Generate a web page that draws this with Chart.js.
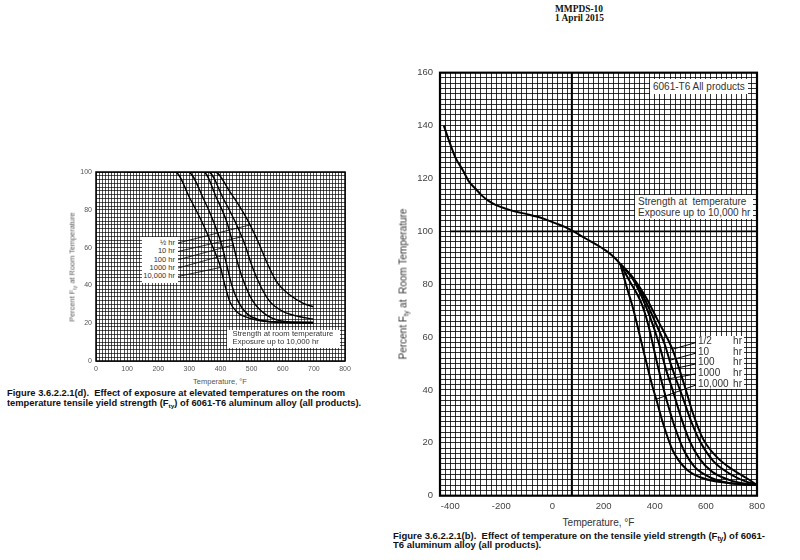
<!DOCTYPE html>
<html><head><meta charset="utf-8">
<script src="https://cdn.jsdelivr.net/npm/chart.js@4.4.1/dist/chart.umd.min.js"></script>
<style>
html,body{margin:0;padding:0;background:#fff;}
body{width:800px;height:560px;position:relative;overflow:hidden;font-family:"Liberation Sans",Arial,sans-serif;}
.abs{position:absolute;}
#hdr{left:555px;top:5px;font-family:"Liberation Serif","Times New Roman",serif;font-weight:bold;font-size:9.4px;line-height:8.7px;color:#111;}
.box{background:#fff;white-space:nowrap;}
.ytitle{white-space:nowrap;transform:translate(-50%,-50%) rotate(-90deg);}
.xtitle{white-space:nowrap;transform:translate(-50%,-50%);}
sub{font-size:70%;vertical-align:-0.35em;line-height:0;}
.cap{font-family:"Liberation Sans",Arial,sans-serif;font-weight:bold;font-size:8.5px;line-height:9.3px;white-space:nowrap;transform-origin:0 0;color:#111;}
.row{display:flex;justify-content:space-between;}
</style>
</head><body>
<div id="hdr" class="abs">MMPDS-10<br>1 April 2015</div>

<canvas id="c1" class="abs" width="320" height="215" style="left:40px;top:160px"></canvas>
<canvas id="c2" class="abs" width="400" height="456" style="left:380px;top:60px"></canvas>

<!-- left chart texts -->
<div class="abs ytitle" style="left:71.7px;top:266.5px;font-size:7.4px;color:#555;">Percent F<sub>ty</sub> at Room Temperature</div>
<div class="abs xtitle" style="left:220px;top:381px;font-size:7.5px;color:#555;">Temperature, °F</div>
<div class="abs box" style="left:141.7px;top:237px;width:33.3px;padding:2.1px 3px 2px 0;text-align:right;font-size:7.5px;line-height:8.35px;color:#333;">
½ hr<br>10 hr<br>100 hr<br>1000 hr<br>10,000 hr</div>
<div class="abs box" style="left:227px;top:330px;width:104px;padding:0 3px 1px 5.5px;font-size:7.7px;line-height:8.4px;color:#333;">Strength at room temperature<br>Exposure up to 10,000 hr</div>
<div class="abs cap" id="cap1" style="left:6.7px;top:389.3px;"><span id="cap1a">Figure 3.6.2.2.1(d).&nbsp; Effect of exposure at elevated temperatures on the room</span><br>temperature tensile yield strength (F<sub>ty</sub>) of 6061-T6 aluminum alloy (all products).</div>

<!-- right chart texts -->
<div class="abs ytitle" style="left:403px;top:283.7px;font-size:10px;color:#333;">Percent F<sub>ty</sub> at&nbsp; Room Temperature</div>
<div class="abs xtitle" style="left:598.5px;top:521.7px;font-size:10px;color:#333;">Temperature, °F</div>
<div class="abs box" style="left:650px;top:78.5px;padding:1px 3px;font-size:10px;line-height:13px;color:#333;">6061-T6 All products</div>
<div class="abs box" style="left:635px;top:195px;padding:1px 3px;font-size:10px;line-height:11px;color:#333;">Strength at&nbsp; temperature<br>Exposure up to 10,000 hr</div>
<div class="abs box" style="left:696px;top:336px;width:44px;padding:0 2px;font-size:10px;line-height:10.65px;color:#333;">
<div class="row"><span>1/2</span><span>hr</span></div>
<div class="row"><span>10</span><span>hr</span></div>
<div class="row"><span>100</span><span>hr</span></div>
<div class="row"><span>1000</span><span>hr</span></div>
<div class="row"><span>10,000</span><span>hr</span></div>
</div>
<div class="abs cap" id="cap2" style="left:393px;top:532px;font-size:9px;"><span id="cap2a">Figure 3.6.2.2.1(b).&nbsp; Effect of temperature on the tensile yield strength (F<sub>ty</sub>) of 6061-</span><br>T6 aluminum alloy (all products).</div>

<script>
// ---------- Left chart data: room-temperature F_ty after exposure ----------
const leftXTicks = [0,100,200,300,400,500,600,700,800];
const leftYTicks = [0,20,40,60,80,100];
const leftHalfX  = [100,382,430,484,521,548,580,623,666,698];
const leftHalfY  = [100,100,89.6,75.5,63.1,52.5,42,34.9,30.5,28.7];
const left10X    = [100,361,409,452,479,500,527,559,602,655,698];
const left10Y    = [100,100,86,72,61.4,50.8,40.2,31.4,26.1,23.4,22.2];
const left100X   = [100,345,388,420,441,457,479,505,548,613,698];
const left100Y   = [100,100,86,73.7,61.4,50.8,40.2,31.4,24.3,20.8,20.5];
const left1000X  = [100,296,345,382,404,420,436,457,484,527,591,698];
const left1000Y  = [100,100,86,72,61.4,50.8,40.2,31.4,25.2,21.7,20.5,20];
const left10000X = [100,254,302,345,377,398,414,430,452,495,559,698];
const left10000Y = [100,100,86,72,59.6,50.8,40.2,31.4,26.1,22.6,20.8,20.3];
const leftLeadX1 = [260,260,260,260,260];
const leftLeadY1 = [62.3,57.8,53.4,49.0,44.6];
const leftLeadX2 = [495,468,441,412,400];
const leftLeadY2 = [72,65.7,61.4,56,49.5];

// ---------- Right chart data: F_ty at temperature ----------
const rightXTicks = [-400,-200,0,200,400,600,800];
const rightYTicks = [0,20,40,60,80,100,120,140,160];
const rightMainX = [-425,-400,-380,-350,-328,-300,-276,-250,-223,-180,-145,-100,-66,-30,13,50,82,110,144,180,209,240,265];
const rightMainY = [140,133,128,123,119,116,113.5,111.5,110,108.5,107.5,106.5,105.7,104.6,103,101.6,100,98.4,96.5,94.5,92.7,90.3,87.7];
const rightHalfX  = [265,314,366,412,469,517,550,589,642,707,760,800];
const rightHalfY  = [87.7,82.6,75,66.3,55.4,41.5,31,21.5,14.7,9.7,6.6,4];
const right10X    = [265,314,360,405,440,458,480,510,545,580,630,690,750,800];
const right10Y    = [87.7,82.4,74.5,65,57,51.2,45,37,27.5,20,13,8.5,5.6,4];
const right100X   = [265,314,347,380,415,445,470,500,535,575,625,690,750,800];
const right100Y   = [87.7,82,75.7,68,58,47.4,40,30.5,21,14,9,6,4.6,4];
const right1000X  = [265,300,347,375,400,425.5,450,480,515,555,605,670,740,800];
const right1000Y  = [87.7,81.5,73,64.5,54,43.7,35,25.5,17,11,7.5,5.2,4.3,4];
const right10000X = [265,290,314,353,392,406,432,471,524,589,681,792];
const right10000Y = [87.7,79,71.3,56,41,36.5,27.5,17,10,6.6,4.9,4];
const rightLeadX1 = [568,568,568,568,568];
const rightLeadY1 = [58.1,54.1,50,46.2,42.1];
const rightLeadX2 = [469,458,445,425.5,406];
const rightLeadY2 = [55.4,51.2,47.4,43.7,36.5];
const roomTempF = [75, 75];
const roomTempY = [0, 160];
const refLineX = [-400, 800];
const refLineY = [100, 100];

// ---------- helpers ----------
function pts(xs, ys){ return xs.map((x,i)=>({x:x, y:ys[i]})); }
function curve(xs, ys, w){
  return {data:pts(xs,ys), borderColor:'#000', borderWidth:w, pointRadius:0, showLine:true,
          fill:false, cubicInterpolationMode:'monotone', tension:0.4};
}
function straight(xs, ys, w){
  return {data:pts(xs,ys), borderColor:'#000', borderWidth:w, pointRadius:0, showLine:true, fill:false, tension:0};
}
function leaders(x1,y1,x2,y2,w){
  return x1.map((_,i)=>straight([x1[i],x2[i]],[y1[i],y2[i]],w));
}
const frame = {id:'frame', afterDatasetsDraw(chart, args, opts){
  const a = chart.chartArea, ctx = chart.ctx;
  ctx.save(); ctx.strokeStyle='#000'; ctx.lineWidth=opts.width;
  ctx.strokeRect(a.left, a.top, a.right-a.left, a.bottom-a.top); ctx.restore();
}};
function scale(min,max,step,labels,fontSize,color,pad,gridColor,gw,fit){
  return {type:'linear', min:min, max:max,
    ticks:{stepSize:step, maxTicksLimit:2000, autoSkip:false, maxRotation:0, minRotation:0, padding:pad,
           color:color, font:{family:'"Liberation Sans", Arial, sans-serif', size:fontSize},
           callback:v=>labels.includes(v)?String(v):''},
    grid:{color:gridColor, lineWidth:gw, drawTicks:false},
    border:{display:false},
    afterFit:fit};
}
function opts(xs, ys, pad, fw){
  return {responsive:false, animation:false, layout:{padding:pad},
    plugins:{legend:{display:false}, tooltip:{enabled:false}, frame:{width:fw}},
    scales:{x:xs, y:ys}, events:[]};
}

// ---------- left chart ----------
new Chart(document.getElementById('c1'), {
  type:'scatter',
  data:{datasets:[
    curve(leftHalfX,leftHalfY,1.4), curve(left10X,left10Y,1.4), curve(left100X,left100Y,1.4),
    curve(left1000X,left1000Y,1.4), curve(left10000X,left10000Y,1.4),
    ...leaders(leftLeadX1,leftLeadY1,leftLeadX2,leftLeadY2,0.8)
  ]},
  options:opts(
    scale(0,800,10,leftXTicks,7,'#555',4,'rgba(0,0,0,0.85)',0.8,s=>{s.height=14;}),
    scale(0,100,2,leftYTicks,7,'#555',4,'rgba(0,0,0,0.85)',0.8,s=>{s.width=56;}),
    {left:0,top:12,right:15,bottom:0}, 1.5),
  plugins:[frame]
});

// ---------- right chart ----------
new Chart(document.getElementById('c2'), {
  type:'scatter',
  data:{datasets:[
    straight(refLineX,refLineY,1.6), straight(roomTempF,roomTempY,1.6),
    curve(rightMainX,rightMainY,2),
    curve(rightHalfX,rightHalfY,2), curve(right10X,right10Y,2), curve(right100X,right100Y,2),
    curve(right1000X,right1000Y,2), curve(right10000X,right10000Y,2),
    ...leaders(rightLeadX1,rightLeadY1,rightLeadX2,rightLeadY2,1)
  ]},
  options:opts(
    scale(-440,800,20,rightXTicks,9.5,'#444',5,'rgba(0,0,0,0.8)',1,s=>{s.height=20.3;}),
    scale(0,160,2,rightYTicks,9.5,'#444',7,'rgba(0,0,0,0.8)',1,s=>{s.width=60;}),
    {left:0,top:11.7,right:23,bottom:0}, 2.2),
  plugins:[frame]
});

// ---------- fit captions to the reference widths ----------
function fit(id, spanId, target){
  const el = document.getElementById(id), sp = document.getElementById(spanId);
  const w = sp.getBoundingClientRect().width;
  if (w > 0) el.style.transform = 'scaleX(' + (target / w) + ')';
}
fit('cap1','cap1a',338);
fit('cap2','cap2a',372);
</script>
</body></html>
